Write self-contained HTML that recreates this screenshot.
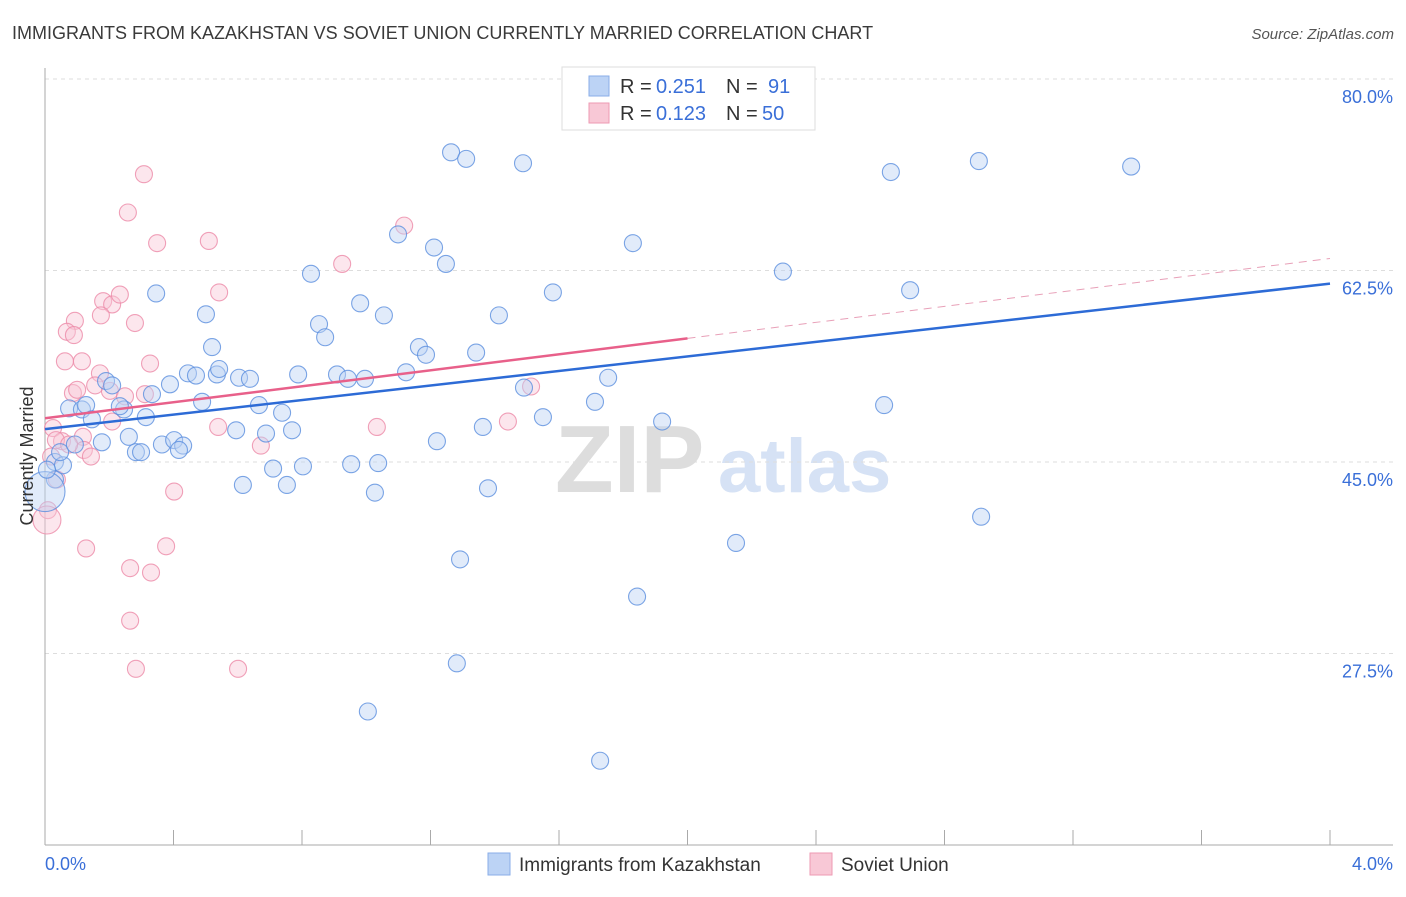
<!DOCTYPE html>
<html><head><meta charset="utf-8"><style>
body{margin:0;background:#fff;font-family:"Liberation Sans",sans-serif;}
svg text{font-family:"Liberation Sans",sans-serif;}
</style></head><body>
<svg id="chart" width="1406" height="892" viewBox="0 0 1406 892" xmlns="http://www.w3.org/2000/svg">
<text x="12" y="39" font-size="18" fill="#3a3a3a">IMMIGRANTS FROM KAZAKHSTAN VS SOVIET UNION CURRENTLY MARRIED CORRELATION CHART</text>
<text x="1394" y="39" font-size="15" fill="#555" text-anchor="end" font-style="italic">Source: ZipAtlas.com</text>
<g>
<text x="555" y="492" font-size="96" fill="#ddd" font-family="Liberation Serif,serif" font-weight="bold">ZIP</text>
<text x="718" y="492" font-size="76" fill="#d6e2f5" font-weight="bold">atlas</text>
</g>
<g id="grid"></g>
<g id="axes"></g>
<g id="marks"></g>
<text transform="translate(33,456) rotate(-90)" font-size="18" fill="#333" text-anchor="middle">Currently Married</text>
<g>
<rect x="562" y="67" width="253" height="63" fill="#fff" stroke="#ddd"/>
<rect x="589" y="76" width="20" height="20" fill="#bcd3f5" stroke="#8aaee8"/>
<text x="620" y="93" font-size="20" fill="#333">R =</text>
<text x="656" y="93" font-size="20" fill="#3a6fd8">0.251</text>
<text x="726" y="93" font-size="20" fill="#333">N =</text>
<text x="768" y="93" font-size="20" fill="#3a6fd8">91</text>
<rect x="589" y="103" width="20" height="20" fill="#f8c8d6" stroke="#ee9ab3"/>
<text x="620" y="120" font-size="20" fill="#333">R =</text>
<text x="656" y="120" font-size="20" fill="#3a6fd8">0.123</text>
<text x="726" y="120" font-size="20" fill="#333">N =</text>
<text x="762" y="120" font-size="20" fill="#3a6fd8">50</text>
</g>
<g>
<rect x="488" y="853" width="22" height="22" fill="#bcd3f5" stroke="#8aaee8"/>
<text x="519" y="871" font-size="19" fill="#333">Immigrants from Kazakhstan</text>
<rect x="810" y="853" width="22" height="22" fill="#f8c8d6" stroke="#ee9ab3"/>
<text x="841" y="871" font-size="19" fill="#333">Soviet Union</text>
</g>
</svg>
<script>
const blueX=[1.264,1.311,1.488,2.633,2.907,3.381,1.099,1.211,1.248,1.830,0.828,2.297,0.346,1.581,2.693,0.501,0.981,1.055,1.413,0.853,0.872,0.520,1.164,1.186,1.342,0.445,0.470,0.535,0.542,0.604,0.638,0.788,0.909,0.943,0.996,1.124,1.753,0.190,0.209,0.389,1.491,0.333,0.489,0.666,0.738,1.712,2.612,0.075,0.115,0.128,0.146,0.246,0.314,1.550,1.921,0.595,0.688,0.769,1.363,0.177,0.261,0.364,0.402,0.430,0.283,0.299,0.417,1.220,0.031,0.056,0.710,0.803,0.953,1.037,0.616,0.753,1.027,1.379,0.031,2.914,2.151,1.292,1.843,1.282,1.005,1.728,0.0,0.233,0.047,0.093,0.006];
const blueY=[73.3,72.7,72.3,71.5,72.5,72.0,65.8,64.6,63.1,65.0,62.2,62.4,60.4,60.5,60.7,58.5,59.5,58.4,58.4,57.6,56.4,55.5,55.5,54.8,55.0,53.1,52.9,53.0,53.5,52.7,52.6,53.0,53.0,52.6,52.6,53.2,52.7,52.4,52.0,52.1,51.8,51.2,50.5,50.2,49.5,50.5,50.2,49.9,49.8,50.2,48.9,49.8,49.1,49.1,48.7,47.9,47.6,47.9,48.2,46.8,47.3,46.6,47.0,46.5,45.9,45.9,46.1,46.9,45.0,44.7,44.4,44.6,44.8,44.9,42.9,42.9,42.2,42.6,43.4,40.0,37.6,36.1,32.7,26.6,22.2,17.7,42.3,50.1,45.9,46.6,44.3];
const pinkX=[0.308,0.258,0.349,0.510,0.925,1.118,0.542,0.181,0.209,0.233,0.174,0.093,0.068,0.090,0.280,0.062,0.115,0.327,0.171,0.156,0.202,0.249,0.087,0.100,0.311,0.209,0.539,0.025,0.053,0.118,0.121,0.143,0.672,1.033,1.441,1.513,0.019,0.037,0.009,0.006,0.128,0.377,0.402,0.265,0.330,0.265,0.283,0.601,0.034,0.075];
const pinkY=[71.3,67.8,65.0,65.2,63.1,66.6,60.5,59.7,59.4,60.3,58.4,57.9,56.9,56.6,57.7,54.2,54.2,54.0,53.1,52.0,51.5,51.0,51.3,51.6,51.2,48.7,48.2,48.1,46.9,47.3,46.1,45.5,46.5,48.2,48.7,51.9,45.5,43.4,40.6,39.7,37.1,37.3,42.3,35.3,34.9,30.5,26.1,26.1,47.0,46.6];
const yTicks=[80.0,62.5,45.0,27.5];
const yTickLabels=["80.0%","62.5%","45.0%","27.5%"];
const xTickLabels=["0.0%","4.0%"];
const blueTrend=[48.0,61.3];
const pinkTrend=[49.0,63.6];
const pinkSolidEnd=2.0;

const NS="http://www.w3.org/2000/svg";
const X0=45,X1=1330,Y80=79,PXPER=10.943;
const sx=v=>X0+(v/4)*(X1-X0);
const sy=v=>Y80+(80-v)*PXPER;
function mk(tag,attrs,parent){const e=document.createElementNS(NS,tag);for(const k in attrs)e.setAttribute(k,attrs[k]);parent.appendChild(e);return e;}
const grid=document.getElementById('grid'),axes=document.getElementById('axes'),marks=document.getElementById('marks');
yTicks.forEach((t,i)=>{
 const l=mk('line',{x1:45,x2:1393,y1:sy(t),y2:sy(t),stroke:'#ddd','stroke-dasharray':'4,4'},grid);
 
 
 const tx=mk('text',{x:1393,y:sy(t)+24,'font-size':18,fill:'#3a6fd8','text-anchor':'end'},axes);
 tx.textContent=yTickLabels[i];
 
 
});
const ax=mk('line',{x1:45,x2:45,y1:68,y2:845,stroke:'#aaa'},axes);


const bx=mk('line',{x1:45,x2:1393,y1:845,y2:845,stroke:'#aaa'},axes);


for(let i=0;i<=10;i++){
 const t=mk('line',{x1:sx(i*0.4),x2:sx(i*0.4),y1:830,y2:845,stroke:'#aaa'},axes);
 
 
}
const xl0=mk('text',{x:45,y:870,'font-size':18,fill:'#3a6fd8'},axes);xl0.textContent=xTickLabels[0];


const xl1=mk('text',{x:1393,y:870,'font-size':18,fill:'#3a6fd8','text-anchor':'end'},axes);xl1.textContent=xTickLabels[1];


function pts(xs,ys,fill,stroke,name,bigIdx,bigR){
 xs.forEach((x,i)=>{
  const c=mk('circle',{cx:sx(x),cy:sy(ys[i]),r:i===bigIdx?bigR:8.5,fill:fill,'fill-opacity':0.45,stroke:stroke,'stroke-opacity':0.8,'stroke-width':1.1},marks);
  
  
 });
}
pts(pinkX,pinkY,'#f8c8d6','#ec8aa8','soviet-point',39,14);
pts(blueX,blueY,'#bcd3f5','#5b8ede','kazakhstan-point',86,20);
const pl=mk('line',{x1:sx(0),y1:sy(pinkTrend[0]),x2:sx(pinkSolidEnd),y2:sy(pinkTrend[0]+(pinkTrend[1]-pinkTrend[0])*pinkSolidEnd/4),stroke:'#e8608a','stroke-width':2.5},marks);


const pd=mk('line',{x1:sx(pinkSolidEnd),y1:sy(pinkTrend[0]+(pinkTrend[1]-pinkTrend[0])*pinkSolidEnd/4),x2:sx(4),y2:sy(pinkTrend[1]),stroke:'#e8a0b8','stroke-width':1,'stroke-dasharray':'8,6'},marks);


const bl=mk('line',{x1:sx(0),y1:sy(blueTrend[0]),x2:sx(4),y2:sy(blueTrend[1]),stroke:'#2d6bd6','stroke-width':2.5},marks);


</script>
</body></html>
